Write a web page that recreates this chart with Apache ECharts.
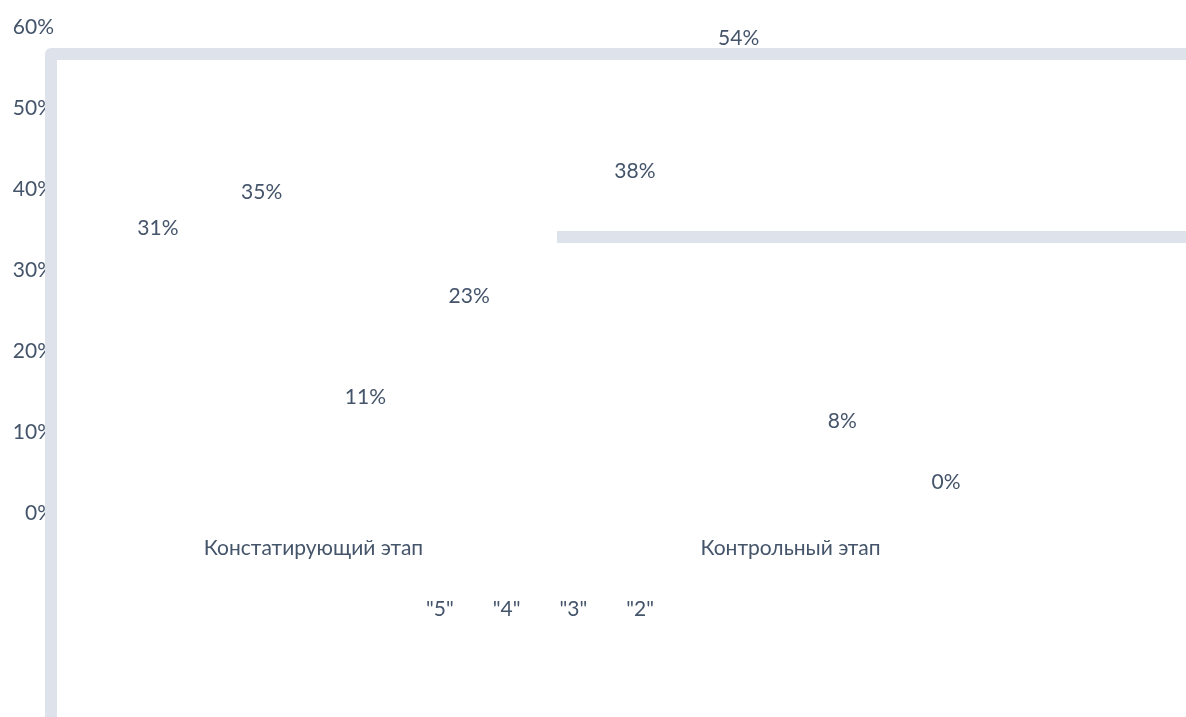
<!DOCTYPE html>
<html>
<head>
<meta charset="utf-8">
<script src="https://cdn.jsdelivr.net/npm/echarts@6/dist/echarts.min.js"></script>
<style>html,body{margin:0;padding:0;background:#fff;}#c{width:1186px;height:717px;}</style>
</head>
<body>
<div id="c"></div>
<script>
const categories = ['Констатирующий этап', 'Контрольный этап'];
const seriesNames = ['"5"', '"4"', '"3"', '"2"'];
const grade5 = [31, 38];
const grade4 = [35, 54];
const grade3 = [11, 8];
const grade2 = [23, 0];
const yTicks = [0, 10, 20, 30, 40, 50, 60];

const textColor = '#44546a';
const font = 'Lato, "Open Sans", sans-serif';
const fs = 21;
const seriesData = [grade5, grade4, grade3, grade2];
const labelDist = [23, 27, 16, 20];

const chart = echarts.init(document.getElementById('c'), null, {renderer: 'canvas'});
chart.setOption({
  animation: false,
  backgroundColor: '#ffffff',
  textStyle: {fontFamily: font, color: textColor},
  grid: {left: 75, right: 157, top: 27, bottom: 204, containLabel: false},
  legend: {
    data: seriesNames,
    left: 391, top: 594,
    itemWidth: 25, itemHeight: 14, itemGap: 9,
    textStyle: {color: textColor, fontSize: fs, fontFamily: font}
  },
  xAxis: {
    type: 'category',
    data: categories,
    axisLine: {show: false},
    axisTick: {show: false},
    axisLabel: {color: textColor, fontSize: fs, fontFamily: font, margin: 25}
  },
  yAxis: {
    type: 'value',
    min: yTicks[0], max: yTicks[yTicks.length - 1], interval: 10,
    axisLine: {show: false},
    axisTick: {show: false},
    splitLine: {show: false},
    axisLabel: {color: textColor, fontSize: fs, fontFamily: font, margin: 21, formatter: '{value}%'}
  },
  series: seriesNames.map((n, i) => ({
    name: n,
    type: 'bar',
    data: seriesData[i],
    barGap: '0%',
    barCategoryGap: '13%',
    itemStyle: {color: 'rgba(0,0,0,0)'},
    label: {
      show: true, position: 'top', distance: labelDist[i],
      formatter: '{c}%', color: textColor, fontSize: fs, fontFamily: font
    }
  })),
  graphic: [
    {
      type: 'polyline', z: 100,
      shape: {points: [[51, 740], [51, 54], [1200, 54]]},
      style: {stroke: '#dee3eb', lineWidth: 12, fill: null, lineJoin: 'round'}
    },
    {
      type: 'line', z: 100,
      shape: {x1: 557, y1: 237, x2: 1200, y2: 237},
      style: {stroke: '#dee3eb', lineWidth: 12}
    }
  ]
});
</script>
</body>
</html>
